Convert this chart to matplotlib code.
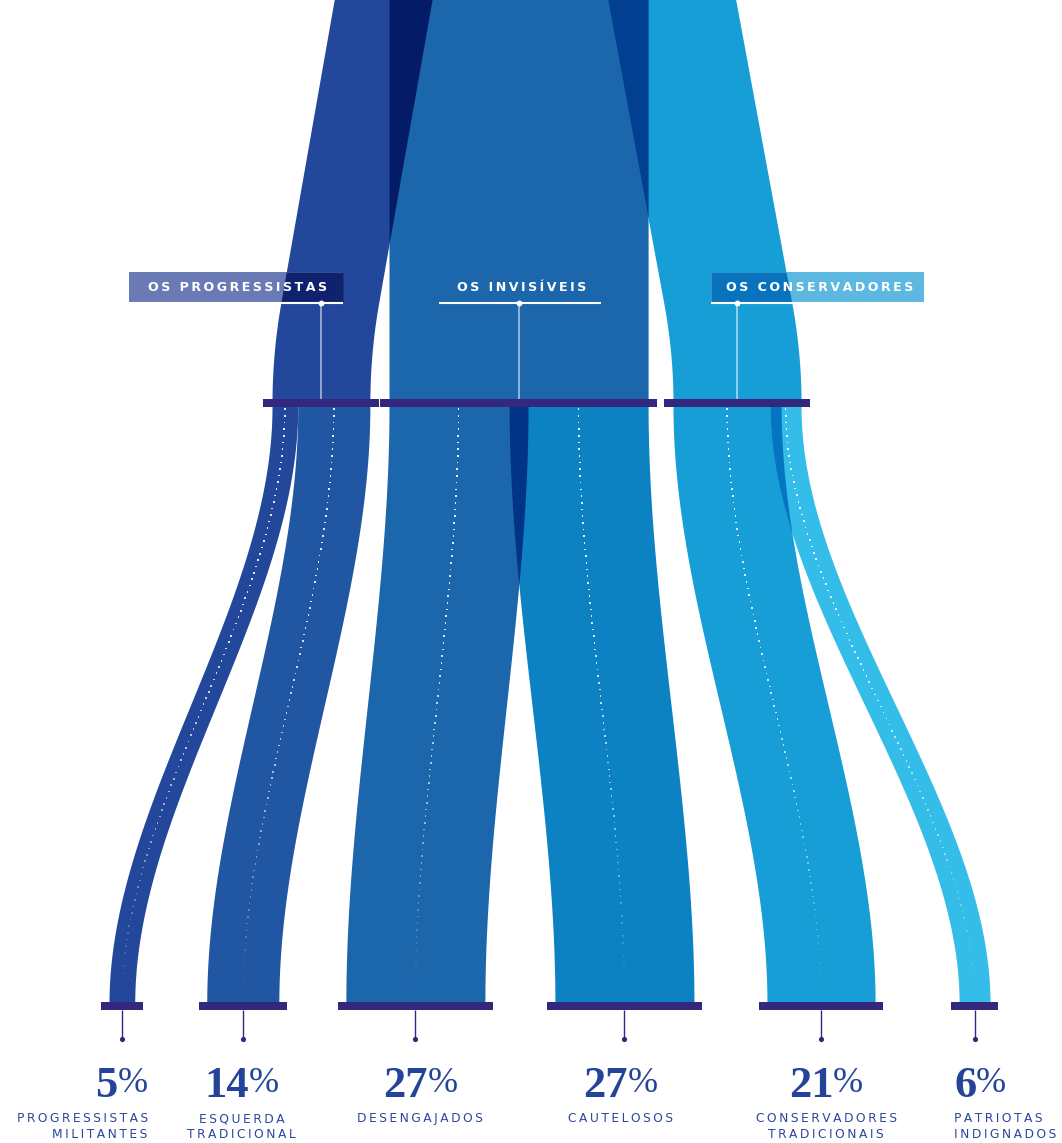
import numpy as np
import matplotlib
matplotlib.use("Agg")
import matplotlib.pyplot as plt
from matplotlib.colors import to_rgb

# ── dados ─────────────────────────────────────────────────────────────────────
segmentos = ["PROGRESSISTAS\nMILITANTES", "ESQUERDA\nTRADICIONAL", "DESENGAJADOS",
             "CAUTELOSOS", "CONSERVADORES\nTRADICIONAIS", "PATRIOTAS\nINDIGNADOS"]
percentuais = [5, 14, 27, 27, 21, 6]
grupo_do_segmento = [0, 0, 1, 1, 2, 2]
grupos = ["OS PROGRESSISTAS", "OS INVISÍVEIS", "OS CONSERVADORES"]

cores_segmento = ["#23479a", "#2156a2", "#1c66ac", "#0d82c3", "#179ed6", "#33bde8"]
cores_grupo = ["#23479a", "#1c66ac", "#179ed6"]
cores_caixa = ["#6a7ab5", None, "#5cb8e0"]
cor_barra = "#33277e"
cor_texto = "#2b4699"
cor_numero = "#24449a"

# ── layout (em pixels) ────────────────────────────────────────────────────────
W, H = 1062, 1143
PX_PCT = 5.15
Y_MEIO, Y_BASE = 403, 1006
BARRA_H = 8
PAD = 8
esq_grupo_meio = [272, 389, 673]
sobreposicao = [0, 19, 11]
esq_base0 = 109
folgas_base = [72, 67, 70, 73, 84]
inclinacao = [0.176, 0.0, -0.185]
FILETE = 100
cabecalho = [(129, 343), (439, 601), (711, 924)]
Y_CAIXA = (272, 302)
ajuste_rotulo = [0, -1, 5, -4, 5, 0]


def mult(c1, c2):
    return tuple(a * b for a, b in zip(to_rgb(c1), to_rgb(c2)))


def filete(u):
    return np.where(u < FILETE, u ** 2 / (2 * FILETE), u - FILETE / 2)


def espacar(s):
    return "\u2009".join(s)


larg = np.array(percentuais) * PX_PCT
n = len(percentuais)

# posições no nó do meio
esq_meio = np.zeros(n)
for g in range(3):
    idx = [i for i in range(n) if grupo_do_segmento[i] == g]
    esq_meio[idx[0]] = esq_grupo_meio[g]
    for a, b in zip(idx[:-1], idx[1:]):
        esq_meio[b] = esq_meio[a] + larg[a] - sobreposicao[g]

# posições na base
esq_base = np.zeros(n)
esq_base[0] = esq_base0
for i in range(1, n):
    esq_base[i] = esq_base[i - 1] + larg[i - 1] + folgas_base[i - 1]

g_esq = [min(esq_meio[i] for i in range(n) if grupo_do_segmento[i] == g) for g in range(3)]
g_dir = [max(esq_meio[i] + larg[i] for i in range(n) if grupo_do_segmento[i] == g) for g in range(3)]
g_centro = [(a + b) / 2 for a, b in zip(g_esq, g_dir)]


def borda_grupo(g, y):
    d = inclinacao[g] * filete(Y_MEIO - y)
    return g_esq[g] + d, g_dir[g] + d


def borda_segmento(i, y):
    t = np.clip((y - (Y_MEIO + 4)) / ((Y_BASE - 3) - (Y_MEIO + 4)), 0, 1)
    s = 3 * t ** 2 - 2 * t ** 3
    e = esq_meio[i] + (esq_base[i] - esq_meio[i]) * s
    return e, e + larg[i]


def sobrepor(ax, ys, a, b, cor):
    lo = np.maximum(a[0], b[0])
    hi = np.minimum(a[1], b[1])
    ax.fill_betweenx(ys, lo, hi, where=hi > lo, interpolate=True, color=cor, lw=0)


fig = plt.figure(figsize=(W / 100, H / 100), dpi=100)
ax = fig.add_axes([0, 0, 1, 1])
ax.set_xlim(0, W)
ax.set_ylim(H, 0)
ax.axis("off")

# ── parte de cima: grupos ─────────────────────────────────────────────────────
ys_top = np.linspace(-5, Y_MEIO, 1200)
bordas_top = [borda_grupo(g, ys_top) for g in range(3)]
for g in range(3):
    ax.fill_betweenx(ys_top, *bordas_top[g], color=cores_grupo[g], lw=0)
for a in range(3):
    for b in range(a + 1, 3):
        sobrepor(ax, ys_top, bordas_top[a], bordas_top[b], mult(cores_grupo[a], cores_grupo[b]))

# caixas dos títulos
ys_cx = np.linspace(*Y_CAIXA, 80)
for g in range(3):
    x0, x1 = cabecalho[g]
    if cores_caixa[g] is not None:
        cx = (np.full_like(ys_cx, x0), np.full_like(ys_cx, x1))
        ax.fill_betweenx(ys_cx, *cx, color=cores_caixa[g], lw=0)
        sobrepor(ax, ys_cx, cx, borda_grupo(g, ys_cx), mult(cores_caixa[g], cores_grupo[g]))
    ax.text((x0 + x1) / 2 + 2, 291, espacar(grupos[g]), color="white", fontsize=9.1,
            fontweight="bold", ha="center", va="baseline", family="DejaVu Sans")
    ax.hlines(302.5, x0, x1, color="white", lw=1.5)
    ax.vlines(g_centro[g], 303, Y_MEIO - 4, color="white", alpha=0.6, lw=1.2)
    ax.scatter([g_centro[g]], [303], s=18, color="white", zorder=5, lw=0)

# ── parte de baixo: segmentos ─────────────────────────────────────────────────
ys_bot = np.linspace(Y_MEIO, Y_BASE, 1500)
bordas_bot = [borda_segmento(i, ys_bot) for i in range(n)]
for i in range(n):
    ax.fill_betweenx(ys_bot, *bordas_bot[i], color=cores_segmento[i], lw=0)
for a in range(n):
    for b in range(a + 1, n):
        sobrepor(ax, ys_bot, bordas_bot[a], bordas_bot[b], mult(cores_segmento[a], cores_segmento[b]))

# linhas pontilhadas no centro de cada faixa
for i in range(n):
    yy = np.linspace(Y_MEIO + 6, 995, 2000)
    e, d = borda_segmento(i, yy)
    xx = (e + d) / 2
    arco = np.concatenate([[0], np.cumsum(np.hypot(np.diff(xx), np.diff(yy)))])
    marcas = np.arange(0, arco[-1], 6.7)
    px = np.interp(marcas, arco, xx)
    py = np.interp(marcas, arco, yy)
    frac = (py - py.min()) / (py.max() - py.min())
    alfa = np.clip(0.9 * (1 - frac ** 2.5), 0, 1)
    cores = np.zeros((len(px), 4))
    cores[:, :3] = 1
    cores[:, 3] = alfa
    ax.scatter(px, py, s=1.4, c=cores, marker="s", lw=0, zorder=4)

# barras dos nós
ax.barh([Y_MEIO] * 3, [r - l + 2 * PAD + 2 for l, r in zip(g_esq, g_dir)],
        left=[l - PAD - 1 for l in g_esq], height=BARRA_H, color=cor_barra, zorder=6)
ax.barh([Y_BASE] * n, larg + 2 * PAD, left=esq_base - PAD, height=BARRA_H,
        color=cor_barra, zorder=6)

centros = esq_base + larg / 2
ax.vlines(centros, Y_BASE + 4, 1039, color=cor_barra, lw=1)
ax.scatter(centros, [1039] * n, s=14, color=cor_barra, lw=0, zorder=6)

# ── rótulos ───────────────────────────────────────────────────────────────────
r = fig.canvas.get_renderer()
for i in range(n):
    if i == 0:
        ha, xa = "right", esq_base[i] + larg[i] + PAD + 5
    elif i == n - 1:
        ha, xa = "left", esq_base[i] - PAD + 3
    else:
        ha, xa = "center", centros[i] + ajuste_rotulo[i]
    t1 = ax.text(0, 1097, str(percentuais[i]), fontsize=32, fontweight="bold",
                 family="Liberation Serif", color=cor_numero, ha="left", va="baseline")
    t2 = ax.text(0, 1092, "%", fontsize=26, family="Liberation Serif",
                 color=cor_numero, ha="left", va="baseline")
    w1 = t1.get_window_extent(r).width
    w2 = t2.get_window_extent(r).width
    tot = w1 + w2
    x0 = {"right": xa - tot, "left": xa, "center": xa - tot / 2}[ha]
    t1.set_x(x0)
    t2.set_x(x0 + w1)
    linhas = segmentos[i].split("\n")
    for k, lin in enumerate(linhas):
        ax.text(xa, 1122 + 16 * k, espacar(lin), fontsize=8.8, color=cor_texto,
                ha=ha, va="baseline", family="DejaVu Sans")

fig.savefig("out.png", dpi=100)
